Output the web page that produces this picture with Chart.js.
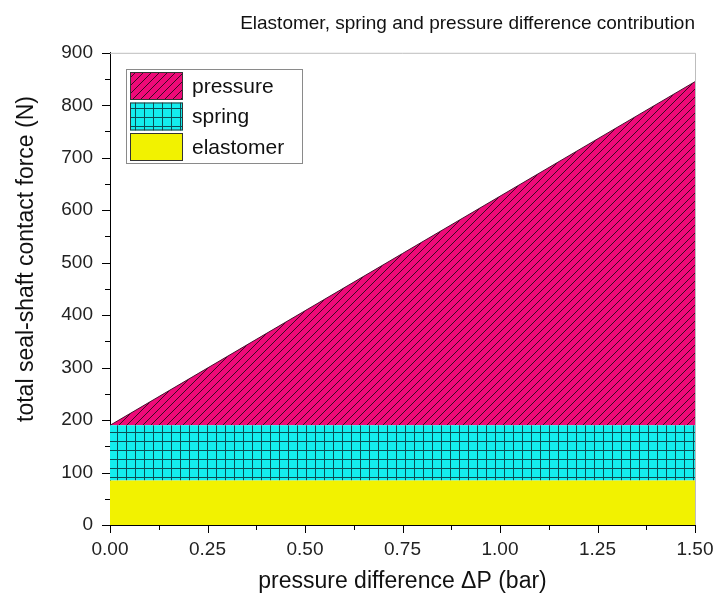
<!DOCTYPE html>
<html>
<head>
<meta charset="utf-8">
<script src="https://cdn.jsdelivr.net/npm/chart.js@4"></script>
<style>
  html, body { margin: 0; padding: 0; background: #fff; }
  #wrap { width: 717px; height: 599px; }
</style>
</head>
<body>
<div id="wrap"><canvas id="forceChart" width="717" height="599"></canvas></div>
<script>
// pressure difference (bar) and stacked force contributions (N)
const deltaP = [0, 1.5];
const elastomerForce = [85, 85];
const springForce = [105, 105];
const pressureForce = [0, 655];

const seriesNames = ['elastomer', 'spring', 'pressure'];
const yTitle = 'total seal-shaft contact force (N)';

const FONT = '"Liberation Sans", Arial, sans-serif';

function makeHatch() {
    const c = document.createElement('canvas');
    c.width = 8; c.height = 8;
    const g = c.getContext('2d');
    g.fillStyle = '#ee0a78';
    g.fillRect(0, 0, 8, 8);
    g.strokeStyle = '#3b0a22';
    g.lineWidth = 1;
    g.beginPath();
    g.moveTo(-1, 9); g.lineTo(9, -1);
    g.moveTo(-1, 1); g.lineTo(1, -1);
    g.moveTo(7, 9); g.lineTo(9, 7);
    g.stroke();
    return document.getElementById('forceChart').getContext('2d').createPattern(c, 'repeat');
}

function makeGrid() {
    const c = document.createElement('canvas');
    c.width = 9; c.height = 9;
    const g = c.getContext('2d');
    g.fillStyle = '#14eeee';
    g.fillRect(0, 0, 9, 9);
    g.fillStyle = '#0b4f55';
    g.fillRect(0, 0, 9, 1);
    g.fillRect(0, 0, 1, 9);
    return document.getElementById('forceChart').getContext('2d').createPattern(c, 'repeat');
}

const hatch = makeHatch();
const grid = makeGrid();
const yellow = '#f2f200';

const toPoints = arr => arr.map((v, i) => ({ x: deltaP[i], y: v }));

// tick marks, frame, y title and the in-plot legend
const decorations = {
    id: 'decorations',
    afterDraw(chart) {
        const ctx = chart.ctx;
        const a = chart.chartArea;
        const xs = chart.scales.x, ys = chart.scales.y;
        ctx.save();
        ctx.strokeStyle = '#bdbdbd';
        ctx.lineWidth = 1;
        ctx.beginPath();
        ctx.moveTo(a.left, a.top + 0.5); ctx.lineTo(a.right + 0.5, a.top + 0.5);
        ctx.lineTo(a.right + 0.5, a.bottom);
        ctx.stroke();

        ctx.strokeStyle = '#000';
        ctx.beginPath();
        for (let v = 0; v <= 900; v += 50) {
            const y = Math.round(ys.getPixelForValue(v)) + 0.5;
            const len = v % 100 === 0 ? 8 : 5;
            ctx.moveTo(a.left - len, y); ctx.lineTo(a.left, y);
        }
        for (let v = 0; v <= 1.5001; v += 0.125) {
            const x = Math.round(xs.getPixelForValue(v)) + 0.5;
            const len = Math.round(v * 8) % 2 === 0 ? 8 : 5;
            ctx.moveTo(x, a.bottom); ctx.lineTo(x, a.bottom + len);
        }
        ctx.stroke();

        // y axis title
        ctx.save();
        ctx.translate(27, 259);
        ctx.rotate(-Math.PI / 2);
        ctx.font = '23px ' + FONT;
        ctx.fillStyle = '#111';
        ctx.textAlign = 'center';
        ctx.textBaseline = 'middle';
        ctx.fillText(yTitle, 0, 0);
        ctx.restore();

        // legend box
        const lx = 126, ly = 69, lw = 176, lh = 94;
        ctx.fillStyle = '#fff';
        ctx.fillRect(lx, ly, lw, lh);
        ctx.strokeStyle = '#8a8a8a';
        ctx.strokeRect(lx + 0.5, ly + 0.5, lw, lh);
        const rows = [
            { name: seriesNames[2], fill: hatch },
            { name: seriesNames[1], fill: grid },
            { name: seriesNames[0], fill: yellow }
        ];
        ctx.font = '21px ' + FONT;
        ctx.textBaseline = 'middle';
        ctx.textAlign = 'left';
        rows.forEach((r, i) => {
            const ry = 72 + i * 30.5;
            ctx.fillStyle = r.fill;
            ctx.fillRect(130, ry, 53, 28);
            ctx.strokeStyle = '#333';
            ctx.strokeRect(130.5, ry + 0.5, 52, 27);
            ctx.fillStyle = '#111';
            ctx.fillText(r.name, 192, ry + 15);
        });
        ctx.restore();
    }
};

new Chart(document.getElementById('forceChart'), {
    type: 'line',
    data: {
        datasets: [{
            label: seriesNames[0],
            data: toPoints(elastomerForce),
            backgroundColor: yellow,
            borderWidth: 0,
            pointRadius: 0,
            fill: 'origin'
        }, {
            label: seriesNames[1],
            data: toPoints(springForce),
            backgroundColor: grid,
            borderWidth: 0,
            pointRadius: 0,
            fill: '-1'
        }, {
            label: seriesNames[2],
            data: toPoints(pressureForce),
            backgroundColor: hatch,
            borderColor: '#4a1030',
            borderWidth: 1,
            pointRadius: 0,
            fill: '-1'
        }]
    },
    options: {
        responsive: false,
        animation: false,
        layout: { padding: { top: 0, right: 22, bottom: 0, left: 0 } },
        plugins: {
            legend: { display: false },
            tooltip: { enabled: false },
            title: {
                display: true,
                text: 'Elastomer, spring and pressure difference contribution',
                color: '#111',
                font: { family: FONT, size: 19, weight: 'normal' },
                padding: { top: 12, bottom: 18 },
                align: 'end'
            }
        },
        scales: {
            x: {
                type: 'linear',
                min: 0,
                max: 1.5,
                border: { color: '#000', width: 1 },
                grid: { display: false },
                ticks: {
                    stepSize: 0.25,
                    color: '#222',
                    padding: 5,
                    maxRotation: 0,
                    font: { family: FONT, size: 19 },
                    callback: v => v.toFixed(2)
                },
                title: {
                    display: true,
                    text: 'pressure difference \u0394P (bar)',
                    color: '#111',
                    font: { family: FONT, size: 23 },
                    padding: { top: 6, bottom: 4 }
                },
                afterFit: s => { s.height = 74; s.paddingLeft = 0; s.paddingRight = 0; }
            },
            y: {
                stacked: true,
                min: 0,
                max: 900,
                border: { color: '#000', width: 1 },
                grid: { display: false },
                ticks: {
                    stepSize: 100,
                    color: '#222',
                    padding: 9,
                    font: { family: FONT, size: 19 }
                },
                afterFit: s => { s.width = 110; }
            }
        }
    },
    plugins: [decorations]
});
</script>
</body>
</html>
